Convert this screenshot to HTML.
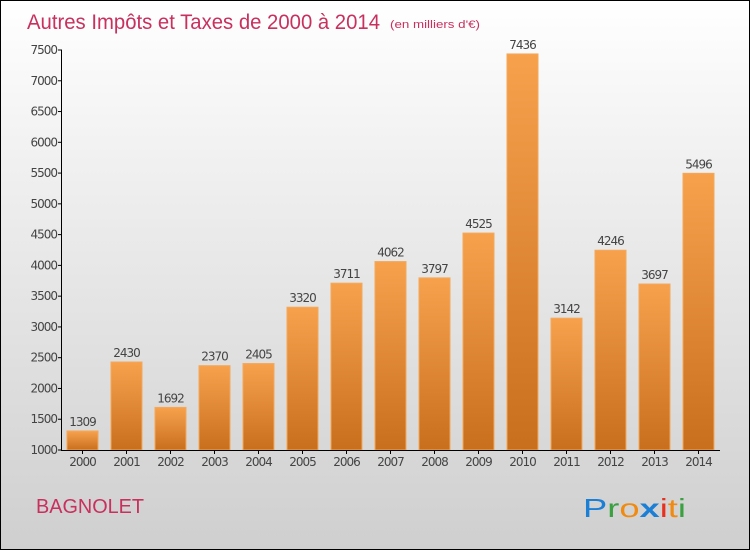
<!DOCTYPE html>
<html><head><meta charset="utf-8"><style>
body{margin:0}
#c{position:relative;width:750px;height:550px;box-sizing:border-box;border:1px solid #000;background:linear-gradient(#fff,#f0f0f0 30%,#cfcfcf);font-family:"DejaVu Sans","Liberation Sans",sans-serif;overflow:hidden}
</style></head><body>
<div id="c">
<svg width="750" height="550" style="position:absolute;left:-1px;top:-1px" id="s">
<defs><linearGradient id="g" x1="0" y1="0" x2="0" y2="1"><stop offset="0" stop-color="#f7a14d"/><stop offset="1" stop-color="#c86f1e"/></linearGradient></defs>
<text x="27" y="29" font-size="21" fill="#c8305e" font-family="'Liberation Sans',sans-serif" textLength="353" lengthAdjust="spacingAndGlyphs">Autres Impôts et Taxes de 2000 à 2014</text>
<text x="390" y="28" font-size="11" fill="#c8305e" font-family="'Liberation Sans',sans-serif" textLength="90" lengthAdjust="spacingAndGlyphs">(en milliers d'€)</text>
<text x="36" y="513" font-size="20" fill="#c8305e" font-family="'Liberation Sans',sans-serif" textLength="108" lengthAdjust="spacingAndGlyphs">BAGNOLET</text>
<text x="583" y="517" font-size="26" font-family="'Liberation Sans',sans-serif" textLength="103" lengthAdjust="spacingAndGlyphs"><tspan fill="#1c7fd6">P</tspan><tspan fill="#3aa040">r</tspan><tspan fill="#f08a10">o</tspan><tspan fill="#1c7fd6" font-weight="bold">x</tspan><tspan fill="#e8301e">i</tspan><tspan fill="#f08a10">t</tspan><tspan fill="#3aa040">i</tspan></text>
<g id="plot"></g>
</svg>
</div>
<script>
const categories=["2000","2001","2002","2003","2004","2005","2006","2007","2008","2009","2010","2011","2012","2013","2014"];
const values=[1309,2430,1692,2370,2405,3320,3711,4062,3797,4525,7436,3142,4246,3697,5496];
const ticks=[1000,1500,2000,2500,3000,3500,4000,4500,5000,5500,6000,6500,7000,7500];
const y=v=>450-(v-1000)*400/6500;
const x=i=>67+i*44;
const ns="http://www.w3.org/2000/svg",p=document.getElementById('plot');
function mk(t,a,txt){const e=document.createElementNS(ns,t);for(const k in a)e.setAttribute(k,a[k]);if(txt!=null)e.textContent=txt;p.appendChild(e);return e;}
ticks.forEach(t=>{
const l=mk('line',{x1:58,x2:62,y1:y(t),y2:y(t),stroke:'#000'});


const tx=mk('text',{x:57,y:y(t)+4,'font-size':12,'text-anchor':'end',fill:'#444','letter-spacing':'-1'},t);


});
values.forEach((v,i)=>{
const r=mk('rect',{x:x(i),y:y(v),width:31,height:450-y(v),fill:'url(#g)',stroke:'#f4a85a','stroke-width':1});


const vl=mk('text',{x:x(i)+15.5,y:y(v)-5,'font-size':12,'text-anchor':'middle',fill:'#444','letter-spacing':'-1'},v);


const tk=mk('line',{x1:x(i)+15.5,x2:x(i)+15.5,y1:450,y2:454,stroke:'#000'});


const cl=mk('text',{x:x(i)+15.5,y:466,'font-size':12,'text-anchor':'middle',fill:'#444','letter-spacing':'-1'},categories[i]);


});
const ya=mk('line',{x1:61.5,x2:61.5,y1:50,y2:450.5,stroke:'#000'});


const xa=mk('line',{x1:61,x2:720,y1:450.5,y2:450.5,stroke:'#000'});


</script>
</body></html>
